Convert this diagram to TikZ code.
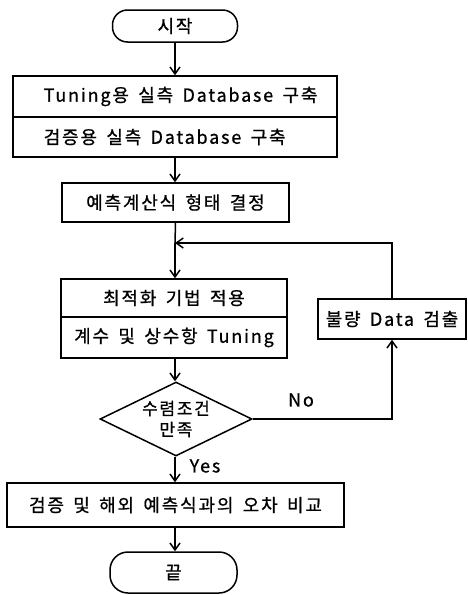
\documentclass[tikz,border=0pt]{standalone}
\usepackage{fontspec}
\setmainfont{Noto Sans CJK KR}[LetterSpace=10,FakeBold=0.8,WordSpace=1.6]
\usetikzlibrary{shapes.geometric,arrows.meta}
\begin{document}
\begin{tikzpicture}[x=1pt,y=-1pt,
  line width=1.5pt,
  font=\fontsize{18}{22}\selectfont,
  arr/.style={-{Straight Barb[length=7pt,width=10pt,line width=1.5pt]}},
  box/.style={draw, rectangle, inner sep=0pt},
  term/.style={draw, rectangle, inner sep=0pt},
  txt/.style={inner sep=0pt},
  ]
\useasboundingbox (0,0) rectangle (467,595);
\node[term, rounded corners=15pt, minimum width=125pt, minimum height=32pt] (start) at (175,26) {시작};
\node[box, minimum width=324pt, minimum height=41pt] (b1a) at (175,96.5) {};
\node[box, minimum width=324pt, minimum height=40pt] (b1b) at (175,137) {};
\node[txt, anchor=west] (t1a) at (43,96.5) {Tuning용 실측 Database 구축};
\node[txt, anchor=west] (t1b) at (43,137) {검증용 실측 Database 구축};
\node[box, minimum width=227pt, minimum height=39pt] (b2) at (175.5,202.5) {예측계산식 형태 결정};
\coordinate (J) at (175,243);
\node[box, minimum width=226pt, minimum height=38pt] (b3a) at (174,298) {최적화 기법 적용};
\node[box, minimum width=226pt, minimum height=41pt] (b3b) at (174,337.5) {계수 및 상수항 Tuning};
\node[box, minimum width=148pt, minimum height=40pt] (r) at (392,319) {불량 Data 검출};
\node[draw, diamond, aspect=2.05, inner sep=0pt, minimum width=152pt, minimum height=74pt, align=center, font=\fontsize{17}{21}\selectfont] (d) at (176,419) {수렴조건\\만족};
\node[box, minimum width=337pt, minimum height=44pt] (b4) at (175.5,505) {검증 및 해외 예측식과의 오차 비교};
\node[term, rounded corners=18pt, minimum width=127pt, minimum height=41pt] (end) at (173.5,572.5) {끝};
\node[txt] (no) at (301,400) {No};
\node[txt] (yes) at (205,466) {Yes};
\draw[arr] (start.south) -- (start.south |- b1a.north);
\draw[arr] (b1b.south) -- (b1b.south |- b2.north);
\draw (b2.south) -- (J);
\draw[arr] (J) -- (J |- b3a.north);
\draw[arr] (b3b.south -| J) -- (J |- d.north);
\draw[arr] (d.east) -| (r.south);
\draw[arr] (r.north) |- (J);
\draw[arr] (J |- d.south) -- (J |- b4.north);
\draw[arr] (J |- b4.south) -- (J |- end.north);
\end{tikzpicture}
\end{document}
